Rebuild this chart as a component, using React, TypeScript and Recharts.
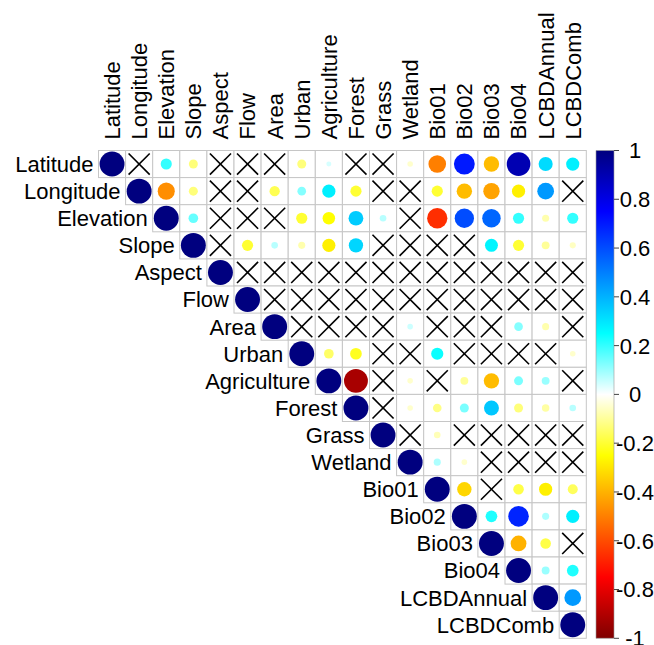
import React from 'react';
import { ScatterChart, Scatter, XAxis, YAxis, ReferenceArea } from 'recharts';

// variable names, in the order of both axes
const variables = [
  'Latitude', 'Longitude', 'Elevation', 'Slope', 'Aspect', 'Flow', 'Area', 'Urban',
  'Agriculture', 'Forest', 'Grass', 'Wetland', 'Bio01', 'Bio02', 'Bio03', 'Bio04',
  'LCBDAnnual', 'LCBDComb',
];

// upper triangle, one array per row: correlations with the columns right of the diagonal
// null = not significant (drawn as a cross)
const rLatitude = [null, 0.2, -0.13, null, null, null, -0.13, 0.04, null, null, -0.05, -0.5, 0.7, -0.38, 0.9, 0.32, 0.28];
const rLongitude = [-0.47, -0.13, null, null, -0.17, 0.12, 0.28, -0.2, null, null, -0.2, -0.38, -0.43, -0.28, 0.45, null];
const rElevation = [0.15, null, null, null, -0.2, -0.25, 0.35, 0.07, null, -0.66, 0.6, 0.55, 0.2, -0.08, 0.2];
const rSlope = [null, -0.2, 0.07, -0.08, -0.28, 0.33, null, null, null, null, 0.27, -0.2, -0.1, -0.06];
const rAspect = [null, null, null, null, null, null, null, null, null, null, null, null, null];
const rFlow = [null, null, null, null, null, null, null, null, null, null, null, null];
const rArea = [null, null, null, null, 0.05, null, null, null, 0.12, -0.08, null];
const rUrban = [-0.15, -0.22, null, null, 0.24, null, null, null, null, -0.05];
const rAgriculture = [-0.92, null, -0.05, null, -0.1, -0.38, 0.13, 0.1, null];
const rForest = [null, -0.05, -0.12, 0.13, 0.36, -0.13, -0.09, 0.07];
const rGrass = [null, -0.07, null, null, null, null, null];
const rWetland = [0.08, -0.05, null, null, null, null];
const rBio01 = [-0.33, null, -0.18, -0.28, -0.16];
const rBio02 = [0.22, 0.68, 0.08, 0.28];
const rBio03 = [-0.4, -0.18, null];
const rBio04 = [0.1, 0.22];
const rLCBDAnnual = [0.45];
const rLCBDComb: (number | null)[] = [];

const upperRows = [
  rLatitude, rLongitude, rElevation, rSlope, rAspect, rFlow, rArea, rUrban, rAgriculture,
  rForest, rGrass, rWetland, rBio01, rBio02, rBio03, rBio04, rLCBDAnnual, rLCBDComb,
];

const colorbarTicks = [1, 0.8, 0.6, 0.4, 0.2, 0, -0.2, -0.4, -0.6, -0.8, -1];

// colour ramp from -1 to 1
const ramp = ['#7F0000', '#FF0000', '#FF7F00', '#FFFF00', '#FFFFFF', '#00FFFF', '#007FFF', '#0000FF', '#00007F'];

const FONT = '"Liberation Sans", Arial, sans-serif';
const CELL = 27.1;
const W = 654;
const H = 645;
const PLOT_LEFT = 98.5;
const PLOT_TOP = 150.5;
const X_MAX = 17.5 + (614 - (PLOT_LEFT + 18 * CELL)) / CELL;
const CB_X1 = 17.5 + (596 - (PLOT_LEFT + 18 * CELL)) / CELL;

const hex = (h: string) => [1, 3, 5].map((k) => parseInt(h.slice(k, k + 2), 16));

const colorOf = (v: number) => {
  const t = ((v + 1) / 2) * (ramp.length - 1);
  const i = Math.min(Math.floor(t), ramp.length - 2);
  const f = t - i;
  const a = hex(ramp[i]);
  const b = hex(ramp[i + 1]);
  const c = a.map((x, k) => Math.round(x + (b[k] - x) * f));
  return `rgb(${c[0]},${c[1]},${c[2]})`;
};

const cells: { x: number; y: number; v: number | null }[] = [];
upperRows.forEach((row, i) => {
  cells.push({ x: i, y: i, v: 1 });
  row.forEach((v, k) => cells.push({ x: i + 1 + k, y: i, v }));
});

const diag = variables.map((name, i) => ({ x: i, y: i, name }));

const CellShape = (props: any) => {
  const { cx, cy, payload } = props;
  const h = CELL / 2;
  const v = payload.v;
  const inset = 3;
  return (
    <g>
      <rect x={cx - h} y={cy - h} width={CELL} height={CELL} fill="#fff" stroke="#c6c6c6" strokeWidth={1} />
      {v === null ? (
        <g stroke="#000" strokeWidth={1.6}>
          <line x1={cx - h + inset} y1={cy - h + inset} x2={cx + h - inset} y2={cy + h - inset} />
          <line x1={cx - h + inset} y1={cy + h - inset} x2={cx + h - inset} y2={cy - h + inset} />
        </g>
      ) : (
        <circle cx={cx} cy={cy} r={0.46 * CELL * Math.sqrt(Math.abs(v))} fill={colorOf(v)} />
      )}
    </g>
  );
};

const RowLabel = (props: any) => {
  const { cx, cy, payload } = props;
  return (
    <text x={cx - CELL / 2 - 5} y={cy} dy="0.36em" textAnchor="end" fontFamily={FONT} fontSize={22} fill="#000">
      {payload.name}
    </text>
  );
};

const ColumnTick = (props: any) => {
  const { x, payload } = props;
  return (
    <text
      transform={`translate(${x},${PLOT_TOP - 11}) rotate(-90)`}
      dy="0.36em"
      textAnchor="start"
      fontFamily={FONT}
      fontSize={22}
      fill="#000"
    >
      {variables[payload.value]}
    </text>
  );
};

const ColorbarTick = (props: any) => {
  const { x, y, payload } = props;
  return (
    <text x={x + 14} y={y} dy="0.36em" textAnchor="middle" fontFamily={FONT} fontSize={22} fill="#000">
      {String(payload.value)}
    </text>
  );
};

export default function App() {
  return (
    <div style={{ position: 'absolute', left: 0, top: 0, width: W, height: H, background: '#fff' }}>
      <ScatterChart
        width={W}
        height={H}
        margin={{ top: PLOT_TOP - 140, left: PLOT_LEFT, right: 0, bottom: H - (PLOT_TOP + 18 * CELL) }}
      >
        <defs>
          <linearGradient id="cbGrad" x1="0" y1="0" x2="0" y2="1">
            {[...ramp].reverse().map((c, k) => (
              <stop key={k} offset={`${(k / (ramp.length - 1)) * 100}%`} stopColor={c} />
            ))}
          </linearGradient>
        </defs>
        <XAxis
          type="number"
          dataKey="x"
          orientation="top"
          domain={[-0.5, X_MAX]}
          ticks={variables.map((_, i) => i)}
          interval={0}
          height={140}
          tickLine={false}
          axisLine={false}
          tick={<ColumnTick />}
        />
        <YAxis yAxisId="grid" type="number" dataKey="y" domain={[-0.5, 17.5]} reversed hide />
        <YAxis
          yAxisId="cb"
          orientation="right"
          type="number"
          domain={[-1, 1]}
          allowDataOverflow
          ticks={colorbarTicks}
          interval={0}
          width={40}
          axisLine={false}
          tickSize={5}
          tickLine={{ stroke: '#444' }}
          tick={<ColorbarTick />}
        />
        <ReferenceArea
          yAxisId="cb"
          x1={CB_X1}
          x2={X_MAX}
          y1={-1}
          y2={1}
          fill="url(#cbGrad)"
          fillOpacity={1}
          stroke="#999"
          strokeWidth={0.6}
          ifOverflow="visible"
        />
        <Scatter yAxisId="grid" data={cells} shape={<CellShape />} isAnimationActive={false} />
        <Scatter yAxisId="grid" data={diag} shape={<RowLabel />} isAnimationActive={false} />
      </ScatterChart>
    </div>
  );
}
